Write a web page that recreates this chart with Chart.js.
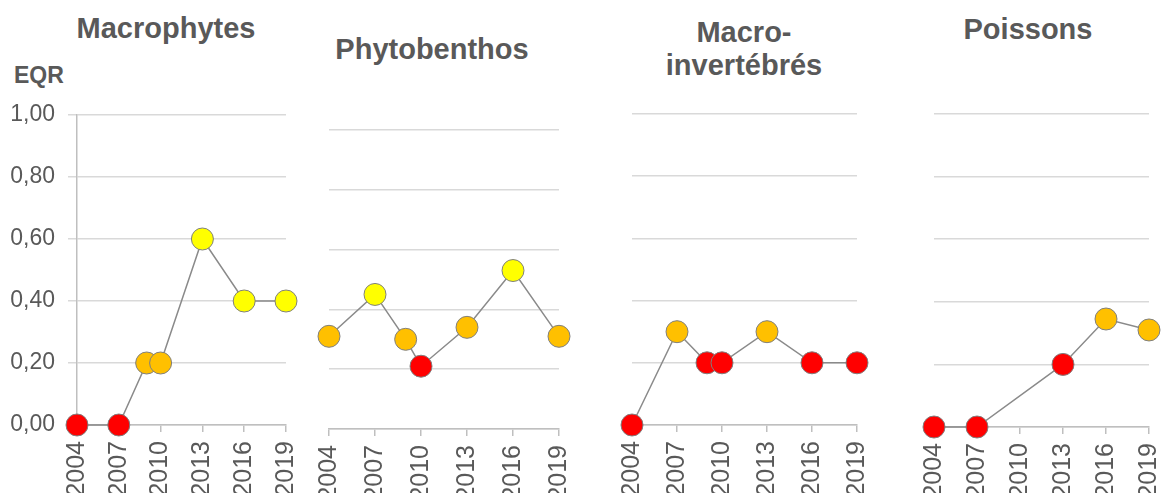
<!DOCTYPE html>
<html>
<head>
<meta charset="utf-8">
<script src="https://cdn.jsdelivr.net/npm/chart.js"></script>
<style>
    body {
        margin: 0;
        background: #fff;
        width: 1161px;
        height: 493px;
        overflow: hidden;
        position: relative;
        font-family: 'Liberation Sans', Arial, sans-serif;
    }
    .panel { position: absolute; top: 0; }
    .title {
        position: absolute;
        width: 300px;
        text-align: center;
        font-weight: bold;
        font-size: 29px;
        line-height: 29px;
        color: #595959;
    }
    #eqr {
        position: absolute;
        left: 14px;
        top: 64px;
        font-weight: bold;
        font-size: 23px;
        line-height: 23px;
        color: #595959;
    }
</style>
</head>
<body>

<div id="eqr">EQR</div>
<div class="title" style="left:16px; top:14px;">Macrophytes</div>
<div class="title" style="left:282px; top:35px;">Phytobenthos</div>
<div class="title" style="left:594px; top:16px; line-height:33px;">Macro-<br>invertébrés</div>
<div class="title" style="left:878px; top:15px;">Poissons</div>

<canvas id="c1" class="panel" style="left:0px" width="300" height="493"></canvas>
<canvas id="c2" class="panel" style="left:300px" width="280" height="493"></canvas>
<canvas id="c3" class="panel" style="left:600px" width="275" height="493"></canvas>
<canvas id="c4" class="panel" style="left:900px" width="261" height="493"></canvas>

<script>
    // axis ticks
    const yearTicks = [2004, 2007, 2010, 2013, 2016, 2019];
    const eqrTicks = [0, 0.2, 0.4, 0.6, 0.8, 1.0];

    // Macrophytes
    const macrophytesYears = [2004, 2007, 2009, 2010, 2013, 2016, 2019];
    const macrophytesEqr = [0, 0, 0.20, 0.20, 0.60, 0.40, 0.40];
    const macrophytesClass = ['mauvais', 'mauvais', 'médiocre', 'médiocre', 'moyen', 'moyen', 'moyen'];

    // Phytobenthos
    const phytobenthosYears = [2004, 2007, 2009, 2010, 2013, 2016, 2019];
    const phytobenthosEqr = [0.31, 0.45, 0.30, 0.21, 0.34, 0.53, 0.31];
    const phytobenthosClass = ['médiocre', 'moyen', 'médiocre', 'mauvais', 'médiocre', 'moyen', 'médiocre'];

    // Macro-invertébrés
    const invertebresYears = [2004, 2007, 2009, 2010, 2013, 2016, 2019];
    const invertebresEqr = [0, 0.30, 0.20, 0.20, 0.30, 0.20, 0.20];
    const invertebresClass = ['mauvais', 'médiocre', 'mauvais', 'mauvais', 'médiocre', 'mauvais', 'mauvais'];

    // Poissons
    const poissonsYears = [2004, 2007, 2013, 2016, 2019];
    const poissonsEqr = [0, 0, 0.20, 0.345, 0.31];
    const poissonsClass = ['mauvais', 'mauvais', 'mauvais', 'médiocre', 'médiocre'];

    const classColours = { 'mauvais': '#ff0000', 'médiocre': '#ffc000', 'moyen': '#ffff00' };

    const textColour = '#595959';
    const fontFamily = "'Liberation Sans', Arial, sans-serif";

    function makePanel(id, years, values, classes, box) {
        const points = years.map((y, i) => ({ x: y, y: values[i] }));
        const colours = classes.map(c => classColours[c]);

        new Chart(document.getElementById(id), {
            type: 'scatter',
            data: {
                datasets: [{
                    data: points,
                    showLine: true,
                    borderColor: '#8a8a8a',
                    borderWidth: 1.5,
                    pointRadius: 11,
                    pointHoverRadius: 11,
                    pointBackgroundColor: colours,
                    pointBorderColor: '#7f7f7f',
                    pointBorderWidth: 1,
                    clip: false
                }]
            },
            options: {
                responsive: false,
                animation: false,
                events: [],
                layout: {
                    padding: { top: box.top, left: box.padLeft, right: box.padRight, bottom: 0 }
                },
                plugins: { legend: { display: false }, tooltip: { enabled: false } },
                scales: {
                    x: {
                        type: 'linear',
                        min: 2004,
                        max: 2019,
                        afterBuildTicks: s => { s.ticks = yearTicks.map(v => ({ value: v })); },
                        afterFit: s => {
                            s.height = box.xHeight;
                            s.paddingLeft = 0;
                            s.paddingRight = 0;
                        },
                        grid: {
                            drawOnChartArea: false,
                            drawTicks: true,
                            tickLength: 7,
                            color: '#bfbfbf',
                            lineWidth: 1.5
                        },
                        border: { display: true, color: '#bfbfbf', width: 1.5 },
                        ticks: {
                            minRotation: 90,
                            maxRotation: 90,
                            autoSkip: false,
                            padding: 9,
                            color: textColour,
                            font: { family: fontFamily, size: 25 },
                            callback: v => String(v)
                        }
                    },
                    y: {
                        min: 0,
                        max: 1,
                        afterBuildTicks: s => { s.ticks = eqrTicks.map(v => ({ value: v })); },
                        afterFit: s => {
                            s.width = box.yWidth;
                            s.paddingTop = 0;
                            s.paddingBottom = 0;
                        },
                        grid: {
                            color: '#d9d9d9',
                            lineWidth: 1.5,
                            drawTicks: box.showY,
                            tickLength: 9
                        },
                        border: { display: box.showY, color: '#bfbfbf', width: 1.5 },
                        ticks: {
                            display: box.showY,
                            padding: 13,
                            color: textColour,
                            font: { family: fontFamily, size: 23 },
                            callback: v => v.toFixed(2).replace('.', ',')
                        }
                    }
                }
            }
        });
    }

    document.addEventListener('DOMContentLoaded', function () {
        makePanel('c1', macrophytesYears, macrophytesEqr, macrophytesClass,
            { top: 115, padLeft: 0, padRight: 14, yWidth: 77, xHeight: 68, showY: true });
        makePanel('c2', phytobenthosYears, phytobenthosEqr, phytobenthosClass,
            { top: 130, padLeft: 29, padRight: 21, yWidth: 0, xHeight: 64, showY: false });
        makePanel('c3', invertebresYears, invertebresEqr, invertebresClass,
            { top: 114, padLeft: 32, padRight: 18, yWidth: 0, xHeight: 68, showY: false });
        makePanel('c4', poissonsYears, poissonsEqr, poissonsClass,
            { top: 114, padLeft: 34, padRight: 7, yWidth: 0, xHeight: 66, showY: false });
    });
</script>
</body>
</html>
